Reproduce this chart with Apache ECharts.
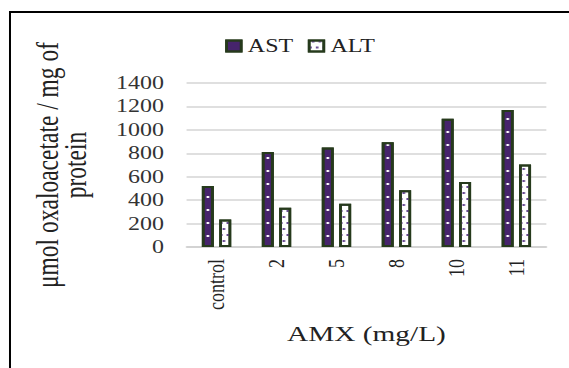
<!DOCTYPE html>
<html><head><meta charset="utf-8">
<script src="https://cdn.jsdelivr.net/npm/echarts@6/dist/echarts.min.js"></script>
<style>
html,body{margin:0;padding:0;background:#fff;overflow:hidden}
#wrap{width:569px;height:368px;overflow:hidden;position:relative;background:#fff}
#c{width:427px;height:368px;transform:scaleX(1.33255);transform-origin:0 0}
</style></head>
<body><div id="wrap"><div id="c"></div></div>
<script>
// ---- data ----
const categories = ['control', '2', '5', '8', '10', '11'];
const astValues = [520, 810, 850, 895, 1095, 1170];
const altValues = [235, 335, 370, 485, 555, 705];
const yTicks = [0, 200, 400, 600, 800, 1000, 1200, 1400];
const seriesNames = ['AST', 'ALT'];
const xTitle = 'AMX (mg/L)';
const yTitle = 'μmol oxaloacetate / mg of\nprotein';

const FONT = "'Liberation Serif', 'Times New Roman', serif";
const chart = echarts.init(document.getElementById('c'), null, {renderer: 'svg'});
const edge = '#263a1c';
chart.setOption({
  animation: false,
  backgroundColor: '#fff',
  textStyle: {fontFamily: FONT},
  graphic: [
    {type: 'line', shape: {x1: 7.5, y1: 12, x2: 440, y2: 12}, style: {stroke: '#000', lineWidth: 2}},
    {type: 'line', shape: {x1: 7.5, y1: 11, x2: 7.5, y2: 380}, style: {stroke: '#000', lineWidth: 1.5}}
  ],
  legend: {
    data: seriesNames,
    left: 169, top: 37, padding: 0,
    icon: 'rect',
    itemWidth: 11, itemHeight: 11, itemGap: 11,
    formatter: '{s|{name}}',
    textStyle: {
      fontFamily: FONT, fontSize: 18, color: '#222',
      rich: {s: {fontFamily: FONT, fontSize: 18, color: '#222'}}
    }
  },
  grid: {left: 140, right: 17, top: 83, bottom: 121, containLabel: false, outerBoundsMode: 'none'},
  xAxis: {
    type: 'category', data: categories,
    axisLine: {show: true, lineStyle: {color: '#d0d0d0', width: 1.5}},
    axisTick: {show: false},
    axisLabel: {rotate: 90, margin: 12, fontFamily: FONT, fontSize: 18, color: '#222'},
    name: xTitle, nameLocation: 'middle', nameGap: 76,
    nameTextStyle: {fontFamily: FONT, fontSize: 22, color: '#222'}
  },
  yAxis: {
    type: 'value', min: yTicks[0], max: yTicks[yTicks.length - 1], interval: yTicks[1] - yTicks[0],
    axisLine: {show: false}, axisTick: {show: false},
    splitLine: {lineStyle: {color: '#d4d4d4', width: 1.5}},
    axisLabel: {margin: 17, fontFamily: FONT, fontSize: 18, color: '#333', formatter: v => String(v)},
    name: yTitle, nameLocation: 'middle', nameGap: 73, nameRotate: 90,
    nameTextStyle: {fontFamily: FONT, fontSize: 23.5, lineHeight: 21, color: '#222', align: 'center'}
  },
  series: [
    {
      name: seriesNames[0], type: 'bar', data: astValues,
      barWidth: 9, barGap: '45%',
      itemStyle: {
        color: '#46246c', borderColor: edge, borderWidth: 2,
        decal: {symbol: 'rect', symbolSize: 1, color: '#ffffff',
                dashArrayX: [0, 20, 2, 23], dashArrayY: [0, 1, 2, 10]}
      }
    },
    {
      name: seriesNames[1], type: 'bar', data: altValues,
      barWidth: 9,
      itemStyle: {
        color: '#ffffff', borderColor: edge, borderWidth: 2,
        decal: {symbol: 'rect', symbolSize: 1, color: '#6a4c93',
                dashArrayX: [[1.5, 2.5], [0, 2, 1.5, 0.5]], dashArrayY: [1.5, 3.5]}
      }
    }
  ]
});
</script></body></html>
